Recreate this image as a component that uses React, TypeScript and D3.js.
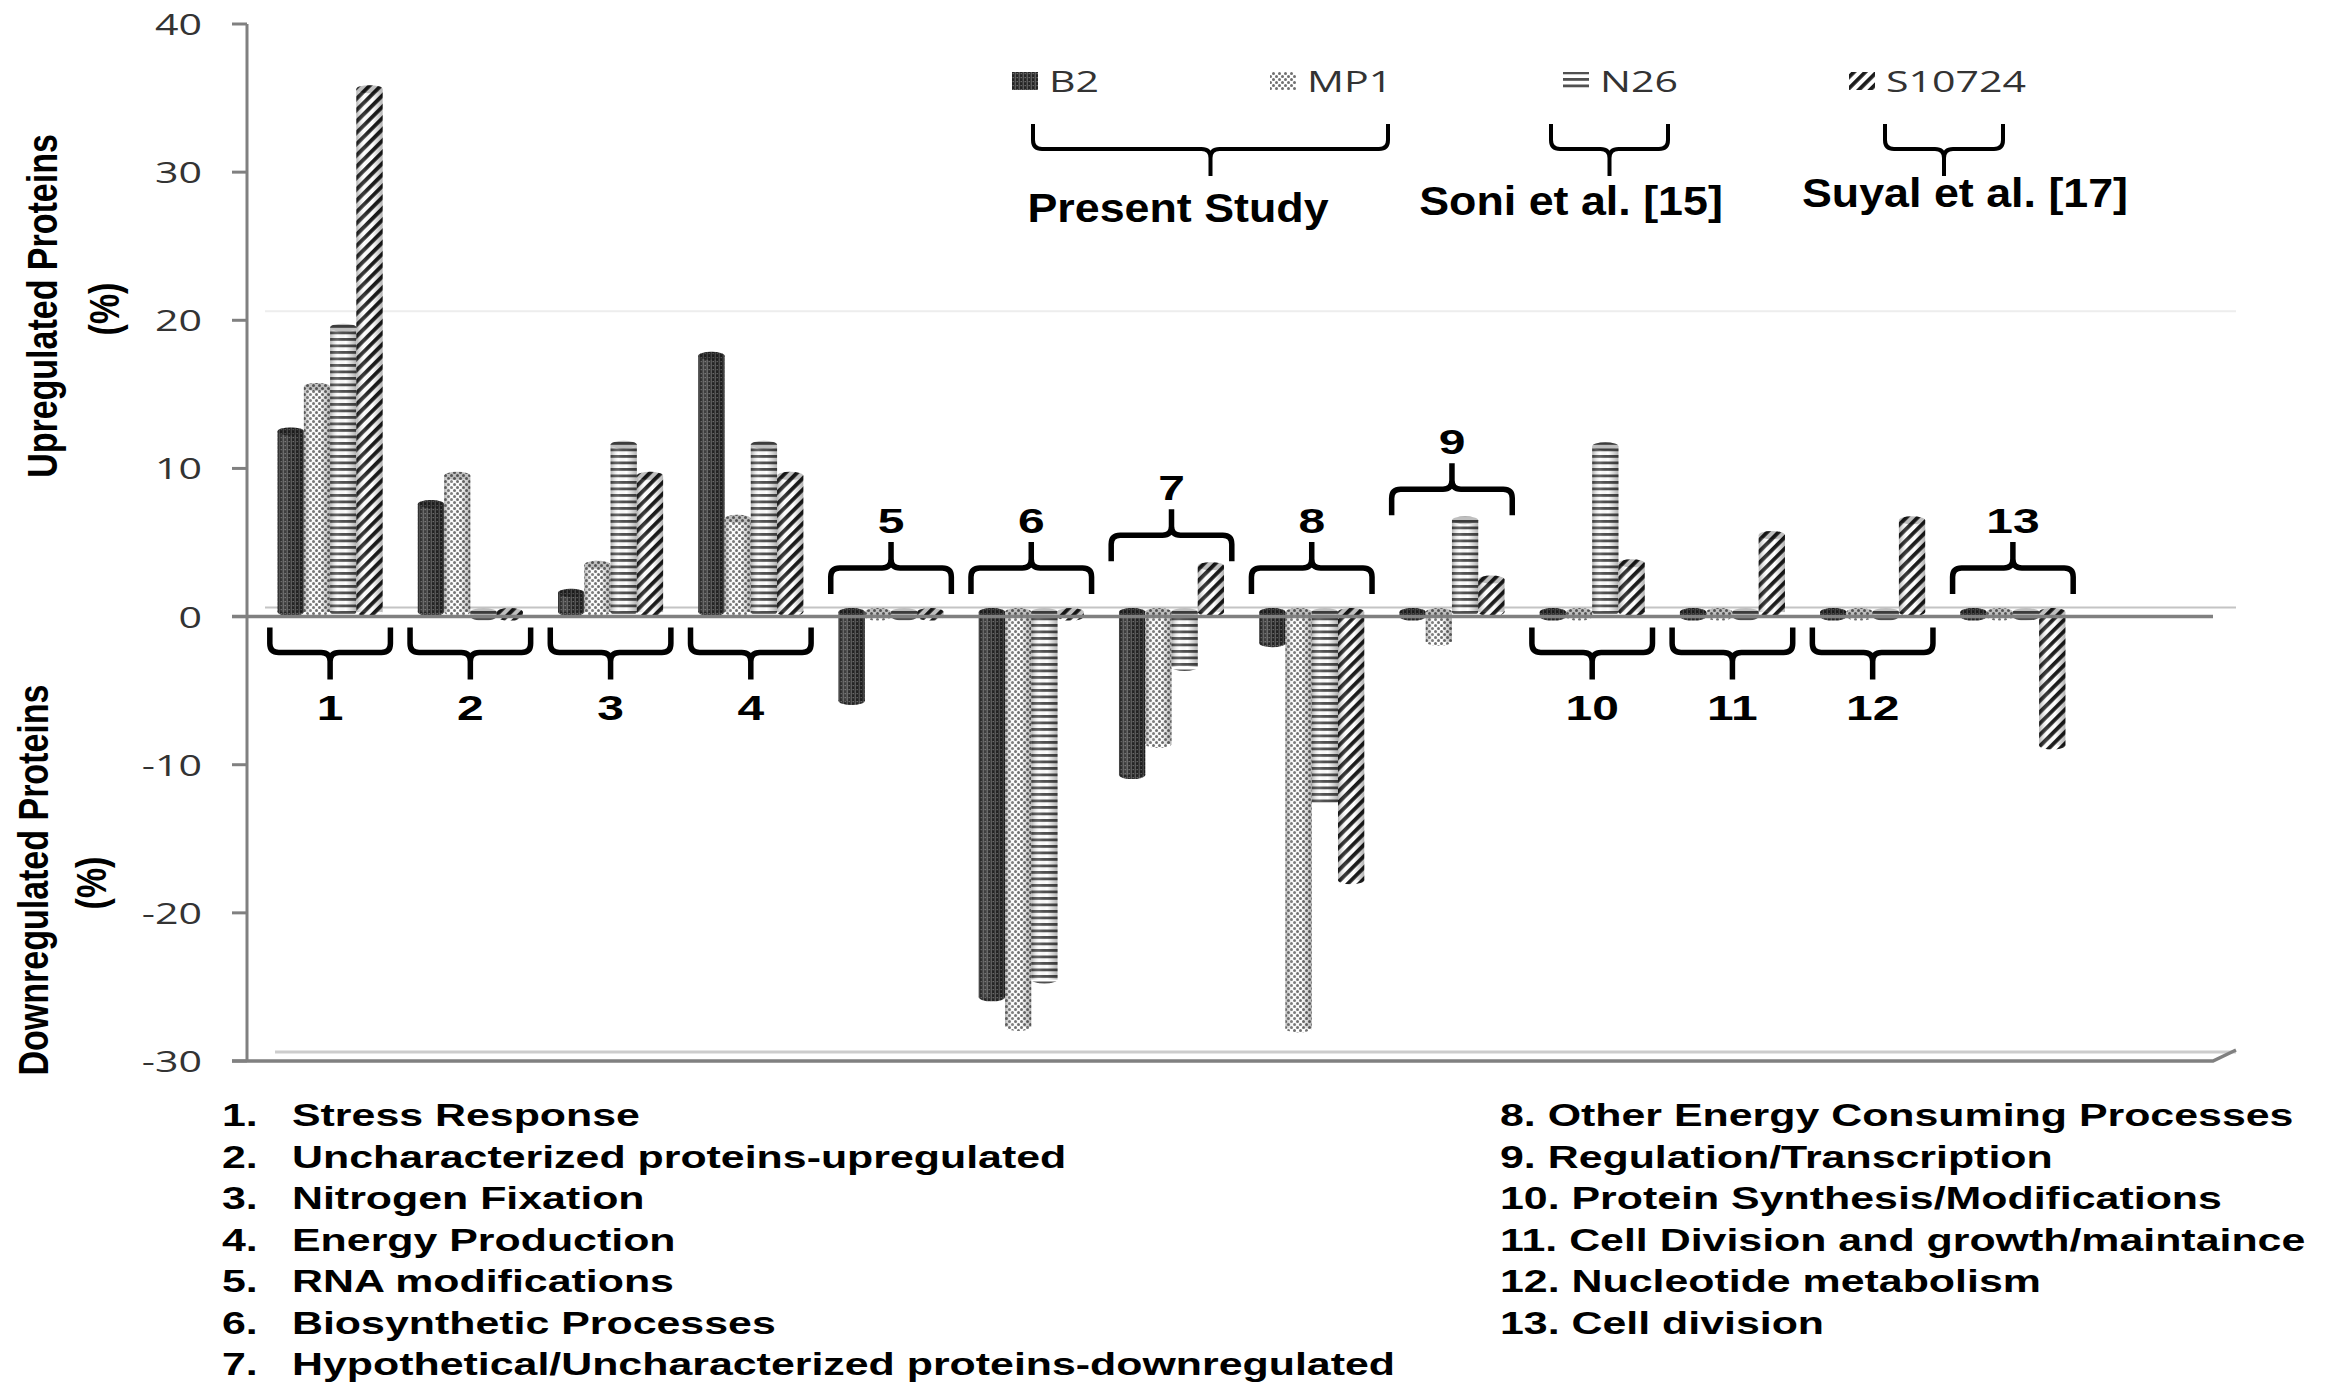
import { useEffect, useRef } from "react"
import * as d3 from "d3"

// data (percent of proteins per functional category)
const groups = ["1", "2", "3", "4", "5", "6", "7", "8", "9", "10", "11", "12", "13"]
const series = ["B2", "MP1", "N26", "S10724"]
const b2Values = [12.5, 7.6, 1.6, 17.6, -5.7, -25.7, -10.7, -1.8, 0, 0, 0, 0, 0]
const mp1Values = [15.5, 9.5, 3.5, 6.6, 0, -27.7, -8.6, -27.8, -1.7, 0, 0, 0, 0]
const n26Values = [19.5, 0, 11.6, 11.6, 0, -24.5, -3.4, -12.5, 6.5, 11.5, 0, 0, 0]
const s10724Values = [35.6, 0, 9.5, 9.5, 0, 0, 3.4, -17.8, 2.5, 3.6, 5.5, 6.5, -8.7]
const braceSide = ["below", "below", "below", "below", "above", "above", "above", "above", "above", "below", "below", "below", "above"]
const yTicks = [-30, -20, -10, 0, 10, 20, 30, 40]
const studies = ["Present Study", "Soni et al. [15]", "Suyal et al. [17]"]
const leftNames = [
  "Stress Response",
  "Uncharacterized proteins-upregulated",
  "Nitrogen Fixation",
  "Energy Production",
  "RNA modifications",
  "Biosynthetic Processes",
  "Hypothetical/Uncharacterized proteins-downregulated",
]
const rightNames = [
  "Other Energy Consuming Processes",
  "Regulation/Transcription",
  "Protein Synthesis/Modifications",
  "Cell Division and growth/maintaince",
  "Nucleotide metabolism",
  "Cell division",
]

const W = 2333
const H = 1390
const SX = 1.37 // the figure is stretched horizontally
const BOLD = "'Liberation Sans', Arial, sans-serif"
const LIGHT = "'Open Sans', 'DejaVu Sans', sans-serif"

export default function App() {
  const svgRef = useRef<SVGSVGElement>(null)

  useEffect(() => {
    if (!svgRef.current) return
    const svg = d3.select(svgRef.current)
    svg.selectAll("*").remove()

    const valuesBySeries: Record<string, number[]> = {
      B2: b2Values,
      MP1: mp1Values,
      N26: n26Values,
      S10724: s10724Values,
    }

    // Scales
    const y = d3.scaleLinear().domain([-30, 40]).range([1061, 24])
    const x0 = d3.scaleBand().domain(groups).range([260, 2083]).padding(0)
    const x1 = d3.scaleBand().domain(series).range([0, x0.bandwidth()]).paddingInner(0).paddingOuter(0.67)
    const axisX = 247
    const plotRight = 2213
    const depth = 9

    const text = (
      g: any,
      x: number,
      yy: number,
      t: string,
      size: number,
      opts: { anchor?: string; family?: string; weight?: string; fill?: string; sx?: number } = {},
    ) =>
      g
        .append("text")
        .attr("transform", `translate(${x},${yy}) scale(${opts.sx ?? SX},1)`)
        .attr("text-anchor", opts.anchor ?? "start")
        .style("font-family", opts.family ?? BOLD)
        .style("font-weight", opts.weight ?? "bold")
        .style("font-size", `${size}px`)
        .style("fill", opts.fill ?? "#000")
        .text(t)

    // Patterns
    const defs = svg.append("defs")
    const pB2 = defs.append("pattern").attr("id", "pat-B2").attr("patternUnits", "userSpaceOnUse").attr("width", 4).attr("height", 4)
    pB2.append("rect").attr("width", 4).attr("height", 4).attr("fill", "#242424")
    pB2.append("rect").attr("x", 2.6).attr("width", 1.4).attr("height", 4).attr("fill", "#5c5c5c")
    pB2.append("rect").attr("x", 0.6).attr("y", 1).attr("width", 1.2).attr("height", 1.2).attr("fill", "#7a7a7a")

    const pMP1 = defs.append("pattern").attr("id", "pat-MP1").attr("patternUnits", "userSpaceOnUse").attr("width", 6).attr("height", 6)
    pMP1.append("rect").attr("width", 6).attr("height", 6).attr("fill", "#fff")
    pMP1.append("circle").attr("cx", 1.5).attr("cy", 1.5).attr("r", 1.5).attr("fill", "#707070")
    pMP1.append("circle").attr("cx", 4.5).attr("cy", 4.5).attr("r", 1.5).attr("fill", "#707070")

    const pN26 = defs.append("pattern").attr("id", "pat-N26").attr("patternUnits", "userSpaceOnUse").attr("width", 6).attr("height", 6.5)
    pN26.append("rect").attr("width", 6).attr("height", 6.5).attr("fill", "#fff")
    pN26.append("rect").attr("width", 6).attr("height", 2.8).attr("fill", "#505050")

    const pS = defs
      .append("pattern")
      .attr("id", "pat-S10724")
      .attr("patternUnits", "userSpaceOnUse")
      .attr("width", 8)
      .attr("height", 8)
      .attr("patternTransform", "rotate(45)")
    pS.append("rect").attr("width", 8).attr("height", 8).attr("fill", "#fff")
    pS.append("rect").attr("width", 3.8).attr("height", 8).attr("fill", "#1c1c1c")

    // cylinder shading
    const cyl = defs.append("linearGradient").attr("id", "cyl").attr("x1", 0).attr("x2", 1).attr("y1", 0).attr("y2", 0)
    cyl.append("stop").attr("offset", "0%").attr("stop-color", "#000").attr("stop-opacity", 0.3)
    cyl.append("stop").attr("offset", "30%").attr("stop-color", "#fff").attr("stop-opacity", 0.12)
    cyl.append("stop").attr("offset", "60%").attr("stop-color", "#000").attr("stop-opacity", 0)
    cyl.append("stop").attr("offset", "100%").attr("stop-color", "#000").attr("stop-opacity", 0.3)

    svg.append("rect").attr("width", W).attr("height", H).attr("fill", "#fff")

    // Back wall and floor (3D look)
    svg
      .append("line")
      .attr("x1", axisX + 18)
      .attr("x2", plotRight + 23)
      .attr("y1", y(20) - depth)
      .attr("y2", y(20) - depth)
      .attr("stroke", "#ededed")
      .attr("stroke-width", 2)
    svg
      .append("line")
      .attr("x1", axisX + 18)
      .attr("x2", plotRight + 23)
      .attr("y1", y(0) - depth)
      .attr("y2", y(0) - depth)
      .attr("stroke", "#c4c4c4")
      .attr("stroke-width", 2)
    svg
      .append("line")
      .attr("x1", axisX + 28)
      .attr("x2", plotRight + 23)
      .attr("y1", y(-30) - depth)
      .attr("y2", y(-30) - depth)
      .attr("stroke", "#cdcdcd")
      .attr("stroke-width", 3)
    svg
      .append("path")
      .attr("d", `M${axisX - 15},${y(-30)} L${plotRight},${y(-30)} L${plotRight + 23},${y(-30) - depth - 2}`)
      .attr("fill", "none")
      .attr("stroke", "#808080")
      .attr("stroke-width", 3.5)

    // Y axis
    svg.append("line").attr("x1", axisX).attr("x2", axisX).attr("y1", y(40)).attr("y2", y(-30)).attr("stroke", "#808080").attr("stroke-width", 3)
    yTicks.forEach((t) => {
      svg.append("line").attr("x1", axisX - 15).attr("x2", axisX).attr("y1", y(t)).attr("y2", y(t)).attr("stroke", "#808080").attr("stroke-width", 3)
      text(svg, 202, y(t) + 11, `${t}`, 30, { anchor: "end", family: LIGHT, weight: "normal", fill: "#333" })
    })

    // Bars
    const base = y(0) - depth / 2
    const bw = x1.bandwidth()
    const ry = 4
    series.forEach((s) => {
      const g = svg.append("g")
      valuesBySeries[s].forEach((v, i) => {
        const bx = (x0(groups[i]) as number) + (x1(s) as number)
        const top = v > 0 ? y(v) : base
        const bottom = v > 0 ? base : Math.max(base, y(v))
        const cx = bx + bw / 2
        g.append("ellipse").attr("cx", cx).attr("cy", bottom).attr("rx", bw / 2).attr("ry", ry).attr("fill", `url(#pat-${s})`)
        if (bottom - top > 0) {
          g.append("rect").attr("x", bx).attr("y", top).attr("width", bw).attr("height", bottom - top).attr("fill", `url(#pat-${s})`)
          g.append("rect").attr("x", bx).attr("y", top).attr("width", bw).attr("height", bottom - top).attr("fill", "url(#cyl)")
        }
        g.append("ellipse").attr("cx", cx).attr("cy", top).attr("rx", bw / 2).attr("ry", ry).attr("fill", `url(#pat-${s})`)
        g.append("ellipse")
          .attr("cx", cx)
          .attr("cy", top)
          .attr("rx", bw / 2)
          .attr("ry", ry)
          .attr("fill", "#000")
          .attr("fill-opacity", 0.25)
      })
    })

    // Zero line in front
    svg
      .append("line")
      .attr("x1", axisX - 15)
      .attr("x2", plotRight)
      .attr("y1", y(0))
      .attr("y2", y(0))
      .attr("stroke", "#808080")
      .attr("stroke-width", 3.5)

    // Curly braces
    const brace = (xa: number, xb: number, yArm: number, yMid: number, yTip: number, sw: number) => {
      const cx = (xa + xb) / 2
      const sgn = yTip > yArm ? 1 : -1
      const r = 9
      const p = d3.path()
      p.moveTo(xa, yArm)
      p.lineTo(xa, yMid - sgn * r)
      p.quadraticCurveTo(xa, yMid, xa + r, yMid)
      p.lineTo(cx - r, yMid)
      p.quadraticCurveTo(cx, yMid, cx, yMid + sgn * r)
      p.lineTo(cx, yTip)
      p.moveTo(xb, yArm)
      p.lineTo(xb, yMid - sgn * r)
      p.quadraticCurveTo(xb, yMid, xb - r, yMid)
      p.lineTo(cx + r, yMid)
      p.quadraticCurveTo(cx, yMid, cx, yMid + sgn * r)
      svg
        .append("path")
        .attr("d", p.toString())
        .attr("fill", "none")
        .attr("stroke", "#000")
        .attr("stroke-width", sw)
        .attr("stroke-linejoin", "round")
    }

    groups.forEach((gName, i) => {
      const cx = (x0(gName) as number) + x0.bandwidth() / 2
      const half = x0.bandwidth() * 0.43
      if (braceSide[i] === "below") {
        const yArm = y(0) + 11
        brace(cx - half, cx + half, yArm, yArm + 25, yArm + 52, 5.5)
        text(svg, cx, yArm + 92, gName, 35, { anchor: "middle" })
      } else {
        const maxPos = d3.max(series, (s) => valuesBySeries[s][i]) as number
        const yArm = Math.min(594, y(maxPos) - 5)
        brace(cx - half, cx + half, yArm, yArm - 26, yArm - 52, 5.5)
        text(svg, cx, yArm - 61, gName, 35, { anchor: "middle" })
      }
    })

    // Legend
    const legendX = [1012, 1270, 1563, 1849]
    series.forEach((s, i) => {
      svg.append("rect").attr("x", legendX[i]).attr("y", 72).attr("width", 26).attr("height", 18).attr("fill", `url(#pat-${s})`)
      text(svg, legendX[i] + 37, 92, s, 30, { family: LIGHT, weight: "normal", fill: "#333" })
    })

    const studyLayout = [
      { xa: 1033, xb: 1388, ty: 222 },
      { xa: 1551, xb: 1668, ty: 215 },
      { xa: 1885, xb: 2003, ty: 207 },
    ]
    const studyCenters = [1178, 1571, 1965]
    studies.forEach((st, i) => {
      const l = studyLayout[i]
      brace(l.xa, l.xb, 124, 149, 176, 4)
      text(svg, studyCenters[i], l.ty, st, 40, { anchor: "middle", sx: 1.12 })
    })

    // Y axis titles
    const vTitle = (x: number, yy: number, t: string) =>
      svg
        .append("text")
        .attr("transform", `translate(${x},${yy}) scale(1.25,1) rotate(-90)`)
        .attr("text-anchor", "middle")
        .style("font-family", BOLD)
        .style("font-weight", "bold")
        .style("font-size", "34px")
        .text(t)
    vTitle(57, 306, "Upregulated Proteins")
    vTitle(119, 309, "(%)")
    vTitle(48, 880, "Downregulated Proteins")
    vTitle(106, 883, "(%)")

    // Category list
    leftNames.forEach((n, i) => {
      const yy = 1126 + i * 41.5
      text(svg, 222, yy, `${i + 1}.`, 32, { sx: 1.34 })
      text(svg, 292, yy, n, 32, { sx: 1.34 })
    })
    rightNames.forEach((n, i) => {
      const yy = 1126 + i * 41.5
      text(svg, 1500, yy, `${i + leftNames.length + 1}. ${n}`, 32, { sx: 1.34 })
    })
  }, [])

  return (
    <svg
      ref={svgRef}
      width={W}
      height={H}
      style={{ position: "absolute", left: 0, top: 0, background: "#fff" }}
    ></svg>
  )
}
